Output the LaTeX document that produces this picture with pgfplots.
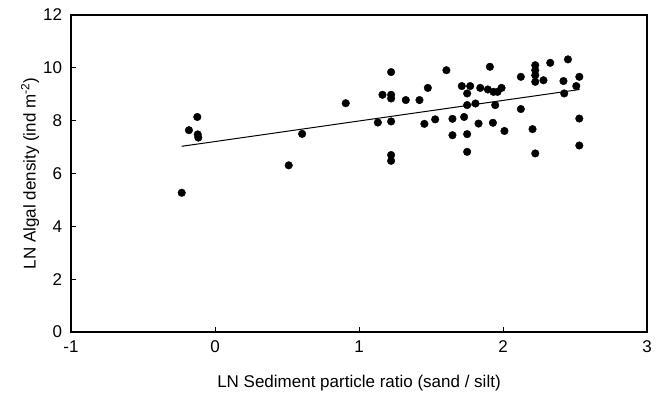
\documentclass[border=0pt]{standalone}
\usepackage{pgfplots}
\pgfplotsset{compat=1.18}
\usepackage{fontspec}
\setmainfont{Liberation Sans}
\begin{document}
\fontsize{17}{19}\selectfont
\begin{tikzpicture}
\begin{axis}[
  at={(0,0)}, anchor=south west,
  scale only axis,
  width=576pt, height=317pt,
  xmin=-1, xmax=3, ymin=0, ymax=12,
  xtick={-1,0,1,2,3}, ytick={0,2,4,6,8,10,12},
  tick align=inside, major tick length=5pt,
  xtick pos=bottom, ytick pos=left,
  /pgf/number format/assume math mode=true,
  tick label style={font=\fontsize{17}{19}\selectfont},
  xticklabel style={yshift=-3pt},
  yticklabel style={xshift=-3pt},
  label style={font=\fontsize{17}{19}\selectfont},
  xlabel={LN Sediment particle ratio (sand / silt)},
  ylabel={LN Algal density (ind m\textsuperscript{-2})},
  xlabel style={at={(axis description cs:0.5,0)}, anchor=base, yshift=-55pt},
  ylabel style={at={(axis description cs:0,0.5)}, anchor=center, yshift=41pt},
  axis line style={line width=1.2pt},
  tick style={black, line width=0.9pt},
]
\addplot[only marks, mark=*, mark size=3.8pt, black] coordinates {
(-0.231,5.27) (-0.181,7.64) (-0.123,8.14) (-0.120,7.48) (-0.116,7.36)
(0.512,6.31) (0.605,7.50) (0.908,8.66) (1.131,7.93) (1.163,8.98)
(1.223,9.84) (1.223,8.98) (1.223,8.84) (1.223,7.97) (1.223,6.70) (1.223,6.48)
(1.325,8.78) (1.420,8.78) (1.478,9.24) (1.454,7.88) (1.529,8.05) (1.607,9.91)
(1.649,8.07) (1.649,7.45) (1.714,9.31) (1.730,8.14) (1.751,9.03) (1.772,9.31)
(1.751,8.59) (1.751,7.49) (1.751,6.82) (1.809,8.65) (1.830,7.89) (1.842,9.24)
(1.909,10.04) (1.895,9.18) (1.934,9.09) (1.962,9.09) (1.990,9.24) (1.946,8.59)
(1.930,7.92) (2.010,7.61) (2.124,9.66) (2.124,8.44) (2.205,7.68) (2.224,6.76)
(2.224,10.10) (2.224,9.91) (2.224,9.72) (2.224,9.47) (2.281,9.53) (2.328,10.19)
(2.420,9.50) (2.451,10.32) (2.425,9.03) (2.530,9.66) (2.509,9.31) (2.530,8.08)
(2.530,7.06)
};
\addplot[black, line width=1pt] coordinates {(-0.231,7.03) (2.532,9.18)};
\end{axis}
\pgfresetboundingbox
\useasboundingbox (-71pt,-62pt) rectangle (588pt,332pt);
\end{tikzpicture}
\end{document}
